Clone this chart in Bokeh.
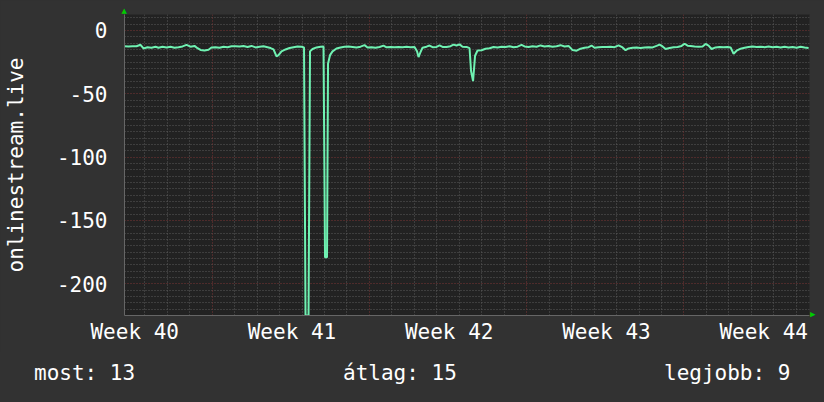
from bokeh.plotting import figure
from bokeh.layouts import column
from bokeh.models import (Range1d, FixedTicker, Grid, Title, Div, ColumnDataSource)
from bokeh.embed import file_html
from bokeh.resources import INLINE

# ---- data: time in days since start of the window, plotted value = -rank ----
days = [0.095, 0.273, 0.451, 0.630, 0.808, 0.941, 1.119, 1.297, 1.476, 1.609,
        1.787, 1.965, 2.143, 2.321, 2.500, 2.678, 2.856, 3.034, 3.212, 3.346,
        3.479, 3.657, 3.835, 3.969, 4.147, 4.325, 4.503, 4.681, 4.859, 5.037,
        5.216, 5.394, 5.572, 5.750, 5.928, 6.106, 6.284, 6.462, 6.596, 6.729,
        6.863, 6.952, 7.085, 7.264, 7.442, 7.620, 7.798, 7.976, 8.087, 8.154,
        8.288, 8.354, 8.466, 8.644, 8.822, 8.955, 9.022, 9.111, 9.156, 9.245,
        9.356, 9.534, 9.712, 9.890, 10.068, 10.247, 10.425, 10.603, 10.781, 10.914,
        11.093, 11.271, 11.449, 11.627, 11.761, 11.939, 12.117, 12.295, 12.473, 12.651,
        12.829, 13.007, 13.118, 13.185, 13.274, 13.363, 13.541, 13.675, 13.809, 13.987,
        14.120, 14.254, 14.432, 14.610, 14.743, 14.877, 15.011, 15.144, 15.322, 15.456,
        15.523, 15.612, 15.701, 15.812, 15.990, 16.168, 16.346, 16.524, 16.703, 16.881,
        17.059, 17.237, 17.415, 17.593, 17.771, 17.905, 18.083, 18.261, 18.439, 18.617,
        18.795, 18.973, 19.151, 19.330, 19.508, 19.686, 19.864, 20.042, 20.220, 20.398,
        20.576, 20.754, 20.888, 21.021, 21.199, 21.378, 21.556, 21.734, 21.912, 22.090,
        22.268, 22.402, 22.535, 22.713, 22.891, 23.069, 23.247, 23.426, 23.604, 23.782,
        23.915, 24.049, 24.183, 24.361, 24.539, 24.717, 24.895, 25.029, 25.162, 25.296,
        25.474, 25.652, 25.830, 25.964, 26.097, 26.231, 26.409, 26.587, 26.765, 26.943,
        27.077, 27.210, 27.344, 27.522, 27.700, 27.878, 28.056, 28.234, 28.413, 28.591,
        28.769, 28.947, 29.125, 29.303, 29.481, 29.659, 29.837, 30.016, 30.194, 30.371,
        30.549]
rank = [-12.4, -12.6, -12.4, -12.5, -11.3, -14.2, -13.3, -13.6, -12.9, -13.6,
        -12.8, -13.4, -12.9, -13.6, -13.2, -12.6, -11.4, -12.8, -12.2, -14.0,
        -15.4, -15.8, -15.2, -13.4, -13.2, -13.6, -12.8, -13.2, -12.5, -12.4,
        -12.6, -12.3, -13.0, -12.2, -13.4, -12.8, -12.4, -13.2, -13.9, -15.0,
        -20.4, -19.5, -16.5, -15.0, -13.8, -13.2, -12.6, -12.9, -13.4, -225.0,
        -225.0, -16.5, -14.6, -13.4, -12.8, -12.6, -179.0, -179.0, -26.0, -19.5,
        -16.5, -14.2, -13.4, -12.8, -12.6, -13.0, -13.4, -12.8, -11.6, -13.4,
        -13.2, -13.6, -13.0, -12.0, -13.3, -13.1, -13.3, -13.0, -13.2, -12.8,
        -13.2, -13.0, -16.5, -21.0, -17.0, -13.6, -12.8, -11.9, -13.2, -13.0,
        -11.8, -13.0, -13.1, -12.4, -11.2, -11.9, -11.0, -12.8, -13.0, -14.0,
        -32.0, -40.0, -20.0, -15.8, -15.6, -14.4, -14.0, -13.0, -13.4, -12.8,
        -13.0, -12.4, -13.2, -12.8, -11.4, -12.6, -13.0, -12.4, -12.8, -11.8,
        -12.6, -12.2, -12.9, -12.4, -11.6, -12.6, -12.2, -15.5, -16.0, -14.4,
        -13.6, -13.2, -11.9, -13.6, -13.2, -13.0, -13.0, -12.8, -13.2, -11.8,
        -13.4, -15.6, -14.2, -13.6, -13.4, -13.8, -13.4, -13.2, -13.4, -12.2,
        -11.2, -12.6, -14.6, -13.8, -13.2, -13.0, -12.2, -10.5, -12.0, -12.2,
        -12.6, -12.8, -12.6, -10.6, -12.0, -14.6, -13.4, -13.0, -13.2, -13.0,
        -13.4, -18.4, -16.0, -14.4, -13.6, -13.0, -12.6, -13.0, -12.8, -13.2,
        -12.6, -13.2, -12.8, -13.4, -12.8, -13.4, -13.0, -13.6, -12.8, -13.4,
        -13.8]

week_ticks = [0.55, 7.55, 14.55, 21.55, 28.55]
week_labels = ["Week 40", "Week 41", "Week 42", "Week 43", "Week 44"]
y_major = [0, -50, -100, -150, -200]
y_labels = ["0", "-50", "-100", "-150", "-200"]
week_starts = [4, 11, 18, 25]
legend_texts = ["most: 13", "átlag: 15", "legjobb: 9"]

X0, X1 = 0.095, 30.59
Y0, Y1 = -225.0, 12.6

FONT = "DejaVu Sans Mono"
FS = "21px"
TXT = "#ffffff"
BG = "#323232"
GREEN = "#00cc00"

p = figure(width=824, height=352, output_backend="svg", toolbar_location=None,
           x_range=Range1d(X0, X1), y_range=Range1d(Y0, Y1),
           min_border_left=124, min_border_right=15, min_border_top=14,
           min_border_bottom=37,
           background_fill_color="#222222", border_fill_color=BG,
           outline_line_color=None)
p.grid.visible = False

# grids
y_minor = [v for v in range(10, -225, -5) if v % 50 != 0]
x_minor = [d for d in range(1, 31) if d not in week_starts]
p.add_layout(Grid(dimension=1, ticker=FixedTicker(ticks=y_minor),
                  grid_line_color="#5a5a5a", grid_line_dash="1 2"))
p.add_layout(Grid(dimension=0, ticker=FixedTicker(ticks=x_minor),
                  grid_line_color="#5a5a5a", grid_line_dash="1 2"))
p.add_layout(Grid(dimension=1, ticker=FixedTicker(ticks=y_major),
                  grid_line_color="#7a3434", grid_line_dash="1 2"))
p.add_layout(Grid(dimension=0, ticker=FixedTicker(ticks=week_starts),
                  grid_line_color="#7a3434", grid_line_dash="1 2"))

src = ColumnDataSource(dict(day=days, rank=rank))
p.line(x="day", y="rank", source=src, line_color="#6ff2b2", line_width=2)

# axes
for ax in (p.xaxis[0], p.yaxis[0]):
    ax.major_tick_line_color = None
    ax.minor_tick_line_color = None
    ax.major_tick_out = 0
    ax.major_tick_in = 0
    ax.minor_tick_out = 0
    ax.axis_line_color = "#666666"
    ax.major_label_text_font = FONT
    ax.major_label_text_font_size = FS
    ax.major_label_text_color = TXT

xa = p.xaxis[0]
xa.ticker = FixedTicker(ticks=week_ticks)
xa.major_label_overrides = {t: l for t, l in zip(week_ticks, week_labels)}
xa.major_label_standoff = 4

ya = p.yaxis[0]
ya.ticker = FixedTicker(ticks=y_major)
ya.major_label_overrides = {t: l for t, l in zip(y_major, y_labels)}
ya.major_label_standoff = 17
ya.axis_label = "onlinestream.live"
ya.axis_label_text_font = FONT
ya.axis_label_text_font_size = FS
ya.axis_label_text_font_style = "normal"
ya.axis_label_text_color = TXT
ya.axis_label_standoff = 26

# small green arrow heads at the ends of the axes
p.add_layout(Title(text="\u25b2", align="left", offset=-3, standoff=0,
                   text_font="DejaVu Sans", text_font_size="7px",
                   text_color=GREEN, text_font_style="normal"), "above")
p.add_layout(Title(text="\u25b2", align="right", offset=-2, standoff=-2,
                   text_font="DejaVu Sans", text_font_size="7px",
                   text_color=GREEN, text_font_style="normal"), "right")

# legend row under the graph
legend_left = [29, 338, 659]
spans = "".join(
    f'<span style="position:absolute;left:{x}px;top:4px;white-space:pre">{t}</span>'
    for t, x in zip(legend_texts, legend_left))
legend = Div(text=f'<div style="position:relative;width:824px;height:50px;'
                  f'font-family:\'{FONT}\';font-size:{FS};line-height:25px;'
                  f'color:{TXT}">{spans}</div>',
             width=824, height=50)

layout = column(p, legend, spacing=0)

html = file_html(layout, INLINE)
html = html.replace("<head>", "<head>\n<style>html,body{background:#323232;}</style>", 1)
open("out.html", "w").write(html)
